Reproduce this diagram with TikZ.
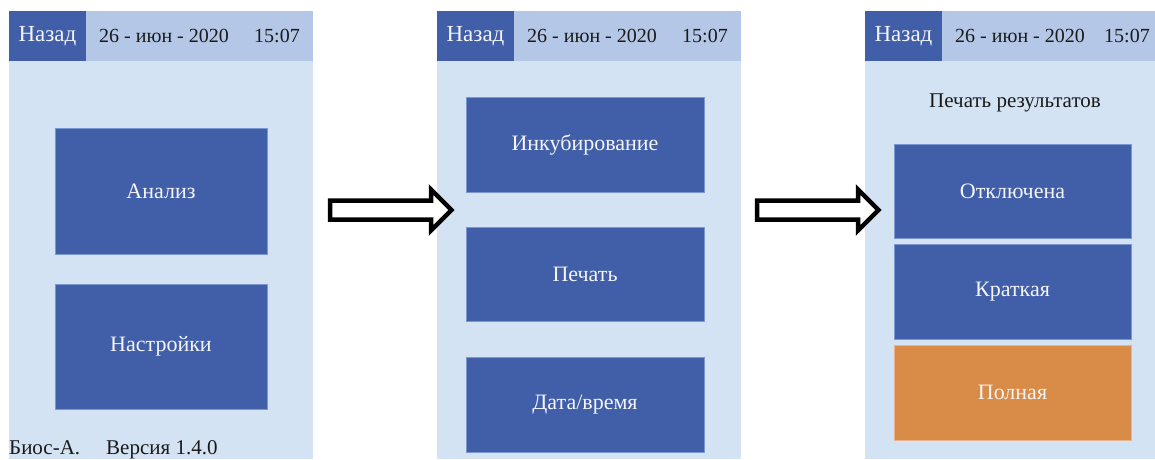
\documentclass[tikz,border=0pt]{standalone}
\usepackage{fontspec}
\setmainfont{Liberation Serif}
\definecolor{hdr}{HTML}{B4C7E7}
\definecolor{pbg}{HTML}{D3E3F3}
\definecolor{btn}{HTML}{415FA9}
\definecolor{btnedge}{HTML}{7C97D0}
\definecolor{orng}{HTML}{D98C48}
\definecolor{orngedge}{HTML}{E8B48A}
\definecolor{txt}{HTML}{1A1A1A}
\definecolor{wtxt}{HTML}{F4F4F4}
\tikzset{
  box/.style={rectangle, anchor=north west, inner sep=0pt, outer sep=0pt},
  panel/.style={box, fill=pbg, minimum height=448pt},
  header/.style={box, fill=hdr, minimum height=50pt},
  back/.style={box, fill=btn, minimum width=77pt, minimum height=50pt, text=wtxt, font=\fontsize{23}{26}\selectfont},
  hdrtext/.style={anchor=base west, inner sep=0pt, text=txt, font=\fontsize{20}{24}\selectfont},
  button/.style={box, fill=btn, draw=btnedge, line width=0.6pt, text=wtxt, font=\fontsize{22}{26}\selectfont},
  obutton/.style={button, fill=orng, draw=orngedge},
  plain/.style={inner sep=0pt, text=txt, font=\fontsize{21}{24}\selectfont},
  bigarrow/.style={draw=black, fill=white, line width=4.5pt, miter limit=10}
}
\begin{document}
\begin{tikzpicture}[x=1pt, y=-1pt]
\useasboundingbox (0,0) rectangle (1155,459);
\clip (0,0) rectangle (1155,459);

% ---------- Panel 1 ----------
\node[panel, minimum width=304pt] (p1) at (9,11) {};
\node[header, minimum width=304pt] (h1) at (9,11) {};
\node[back] (b1) at (9,11) {Назад};
\node[hdrtext] (d1) at (99,42) {26 - июн - 2020};
\node[hdrtext] (t1) at (254,42) {15:07};
\node[button, minimum width=212pt, minimum height=126pt] (analiz) at (55,128) {Анализ};
\node[button, minimum width=212pt, minimum height=125pt] (nastr) at (55,284) {Настройки};
\node[plain, anchor=base west] (bios) at (9,454) {Биос-А.};
\node[plain, anchor=base west] (vers) at (106,454) {Версия 1.4.0};

% ---------- Panel 2 ----------
\node[panel, minimum width=304pt] (p2) at (437,11) {};
\node[header, minimum width=304pt] (h2) at (437,11) {};
\node[back] (b2) at (437,11) {Назад};
\node[hdrtext] (d2) at (527,42) {26 - июн - 2020};
\node[hdrtext] (t2) at (682,42) {15:07};
\node[button, minimum width=238pt, minimum height=95pt] (inkub) at (466,97) {Инкубирование};
\node[button, minimum width=238pt, minimum height=94pt] (pechat) at (466,227) {Печать};
\node[button, minimum width=238pt, minimum height=95pt] (data) at (466,357) {Дата/время};

% ---------- Panel 3 ----------
\node[panel, minimum width=330pt] (p3) at (865,11) {};
\node[header, minimum width=330pt] (h3) at (865,11) {};
\node[back] (b3) at (865,11) {Назад};
\node[hdrtext] (d3) at (955,42) {26 - июн - 2020};
\node[hdrtext] (t3) at (1104,42) {15:07};
\node[plain, anchor=base] (title3) at (1015,107) {Печать результатов};
\node[button, minimum width=237pt, minimum height=94pt] (otkl) at (894,144) {Отключена};
\node[button, minimum width=237pt, minimum height=95pt] (krat) at (894,244) {Краткая};
\node[obutton, minimum width=237pt, minimum height=95pt] (poln) at (894,345) {Полная};

% ---------- Arrows ----------
\coordinate (a1) at (330,210);
\coordinate (a2) at (757,210);
\foreach \a in {a1, a2}{
  \draw[bigarrow] (\a) ++(0,-9.5) -- ++(101,0) -- ++(0,-11) -- ++(20.5,20.5)
     -- ++(-20.5,20.5) -- ++(0,-11) -- ++(-101,0) -- cycle;
}
\end{tikzpicture}
\end{document}
